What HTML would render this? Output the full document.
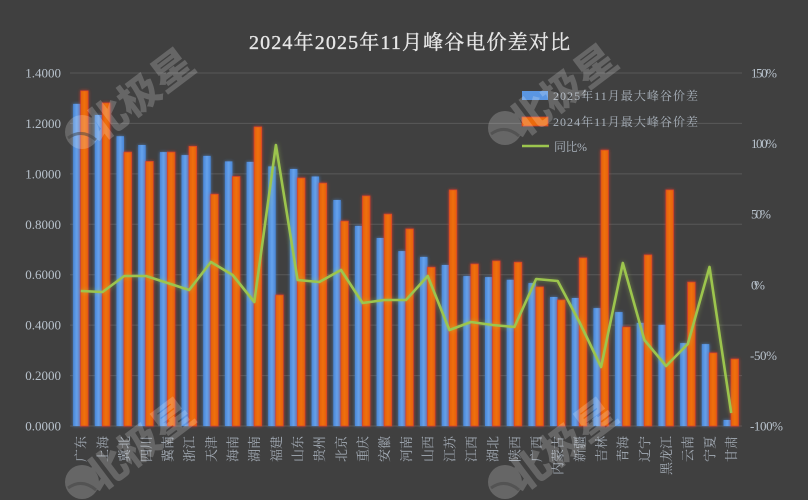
<!DOCTYPE html>
<html><head><meta charset="utf-8"><style>
html,body{margin:0;padding:0;background:#404040;}
svg{display:block;}
</style></head><body>
<svg width="808" height="500" viewBox="0 0 808 500" xmlns="http://www.w3.org/2000/svg">
<defs>
<linearGradient id="bl" x1="0" y1="0" x2="1" y2="0">
<stop offset="0" stop-color="#4a86d6"/><stop offset="0.5" stop-color="#65a2ec"/><stop offset="1" stop-color="#4a86d6"/>
</linearGradient>
<linearGradient id="or" x1="0" y1="0" x2="1" y2="0">
<stop offset="0" stop-color="#e2600a"/><stop offset="0.5" stop-color="#f07010"/><stop offset="1" stop-color="#e2600a"/>
</linearGradient>
<filter id="gb" x="-60%" y="-10%" width="220%" height="120%">
<feGaussianBlur in="SourceAlpha" stdDeviation="1.6" result="b"/><feFlood flood-color="#4f8fe0" flood-opacity="0.75"/><feComposite in2="b" operator="in" result="g"/>
<feMerge><feMergeNode in="g"/><feMergeNode in="SourceGraphic"/></feMerge></filter>
<filter id="go" x="-60%" y="-10%" width="220%" height="120%">
<feGaussianBlur in="SourceAlpha" stdDeviation="1.6" result="b"/><feFlood flood-color="#e23a2a" flood-opacity="0.75"/><feComposite in2="b" operator="in" result="g"/>
<feMerge><feMergeNode in="g"/><feMergeNode in="SourceGraphic"/></feMerge></filter>
<filter id="gl" x="-10%" y="-10%" width="120%" height="120%">
<feGaussianBlur in="SourceAlpha" stdDeviation="2.5" result="b"/><feFlood flood-color="#a8d050" flood-opacity="0.5"/><feComposite in2="b" operator="in" result="g"/>
<feMerge><feMergeNode in="g"/><feMergeNode in="SourceGraphic"/></feMerge></filter>
</defs>
<rect width="808" height="500" fill="#404040"/>

<!-- title -->
<text x="249" y="49" font-family="'Liberation Serif','Noto Serif CJK SC',serif" font-size="20" font-weight="normal" fill="#e6e6e6" stroke="#e6e6e6" stroke-width="0.35" textLength="321" lengthAdjust="spacing">2024年2025年11月峰谷电价差对比</text>

<!-- gridlines -->
<g stroke="#595959" stroke-width="1">
<line x1="70" y1="73" x2="742" y2="73"/>
<line x1="70" y1="123.4" x2="742" y2="123.4"/>
<line x1="70" y1="173.9" x2="742" y2="173.9"/>
<line x1="70" y1="224.3" x2="742" y2="224.3"/>
<line x1="70" y1="274.7" x2="742" y2="274.7"/>
<line x1="70" y1="325.1" x2="742" y2="325.1"/>
<line x1="70" y1="375.6" x2="742" y2="375.6"/>
<line x1="70" y1="426" x2="742" y2="426"/>
</g>

<!-- left axis -->
<g font-family="'Liberation Serif','Noto Serif CJK SC',serif" font-size="13" fill="#b8c2cc" text-anchor="end">
<text x="61" y="77.5">1.4000</text>
<text x="61" y="127.9">1.2000</text>
<text x="61" y="178.4">1.0000</text>
<text x="61" y="228.8">0.8000</text>
<text x="61" y="279.2">0.6000</text>
<text x="61" y="329.6">0.4000</text>
<text x="61" y="380.1">0.2000</text>
<text x="61" y="430.5">0.0000</text>
</g>
<!-- right axis -->
<g font-family="'Liberation Serif','Noto Serif CJK SC',serif" font-size="13" fill="#b8c2cc">
<text x="751" y="77.5" textLength="26">150%</text>
<text x="751" y="148.1" textLength="26">100%</text>
<text x="751" y="218.7" textLength="20">50%</text>
<text x="751" y="289.3" textLength="14">0%</text>
<text x="750" y="359.9" textLength="27">-50%</text>
<text x="750" y="430.5" textLength="33">-100%</text>
</g>

<!-- blue bars -->
<g fill="url(#bl)" filter="url(#gb)">
<rect x="73.1" y="103.9" width="7.5" height="322.1"/>
<rect x="94.8" y="115.0" width="7.5" height="311.0"/>
<rect x="116.5" y="136.2" width="7.5" height="289.8"/>
<rect x="138.2" y="145.0" width="7.5" height="281.0"/>
<rect x="159.9" y="152.1" width="7.5" height="273.9"/>
<rect x="181.5" y="155.1" width="7.5" height="270.9"/>
<rect x="203.2" y="155.9" width="7.5" height="270.1"/>
<rect x="224.9" y="161.4" width="7.5" height="264.6"/>
<rect x="246.6" y="161.9" width="7.5" height="264.1"/>
<rect x="268.2" y="166.4" width="7.5" height="259.6"/>
<rect x="289.9" y="169.0" width="7.5" height="257.0"/>
<rect x="311.6" y="176.5" width="7.5" height="249.5"/>
<rect x="333.3" y="200.0" width="7.5" height="226.0"/>
<rect x="354.9" y="225.9" width="7.5" height="200.1"/>
<rect x="376.6" y="238.0" width="7.5" height="188.0"/>
<rect x="398.3" y="251.1" width="7.5" height="174.9"/>
<rect x="420.0" y="256.9" width="7.5" height="169.1"/>
<rect x="441.7" y="265.0" width="7.5" height="161.0"/>
<rect x="463.3" y="276.1" width="7.5" height="149.9"/>
<rect x="485.0" y="277.1" width="7.5" height="148.9"/>
<rect x="506.7" y="279.8" width="7.5" height="146.2"/>
<rect x="528.4" y="283.1" width="7.5" height="142.9"/>
<rect x="550.0" y="297.0" width="7.5" height="129.0"/>
<rect x="571.7" y="298.0" width="7.5" height="128.0"/>
<rect x="593.4" y="308.1" width="7.5" height="117.9"/>
<rect x="615.1" y="312.1" width="7.5" height="113.9"/>
<rect x="636.7" y="322.9" width="7.5" height="103.1"/>
<rect x="658.4" y="324.9" width="7.5" height="101.1"/>
<rect x="680.1" y="343.1" width="7.5" height="82.9"/>
<rect x="701.8" y="344.1" width="7.5" height="81.9"/>
<rect x="723.5" y="420.0" width="7.5" height="6.0"/>
</g>

<!-- orange bars -->
<g fill="url(#or)" stroke="#d8402e" stroke-width="0.7" filter="url(#go)">
<rect x="80.6" y="90.8" width="7.6" height="335.2"/>
<rect x="102.3" y="102.9" width="7.6" height="323.1"/>
<rect x="124.0" y="152.1" width="7.6" height="273.9"/>
<rect x="145.7" y="161.4" width="7.6" height="264.6"/>
<rect x="167.4" y="152.1" width="7.6" height="273.9"/>
<rect x="189.0" y="146.3" width="7.6" height="279.7"/>
<rect x="210.7" y="194.2" width="7.6" height="231.8"/>
<rect x="232.4" y="176.5" width="7.6" height="249.5"/>
<rect x="254.1" y="126.9" width="7.6" height="299.1"/>
<rect x="275.7" y="295.0" width="7.6" height="131.0"/>
<rect x="297.4" y="178.0" width="7.6" height="248.0"/>
<rect x="319.1" y="183.1" width="7.6" height="242.9"/>
<rect x="340.8" y="221.1" width="7.6" height="204.9"/>
<rect x="362.4" y="195.9" width="7.6" height="230.1"/>
<rect x="384.1" y="214.1" width="7.6" height="211.9"/>
<rect x="405.8" y="228.9" width="7.6" height="197.1"/>
<rect x="427.5" y="267.2" width="7.6" height="158.8"/>
<rect x="449.2" y="189.9" width="7.6" height="236.1"/>
<rect x="470.8" y="264.0" width="7.6" height="162.0"/>
<rect x="492.5" y="260.9" width="7.6" height="165.1"/>
<rect x="514.2" y="262.2" width="7.6" height="163.8"/>
<rect x="535.9" y="286.9" width="7.6" height="139.1"/>
<rect x="557.5" y="300.0" width="7.6" height="126.0"/>
<rect x="579.2" y="257.9" width="7.6" height="168.1"/>
<rect x="600.9" y="150.1" width="7.6" height="275.9"/>
<rect x="622.6" y="327.0" width="7.6" height="99.0"/>
<rect x="644.2" y="254.9" width="7.6" height="171.1"/>
<rect x="665.9" y="189.9" width="7.6" height="236.1"/>
<rect x="687.6" y="282.1" width="7.6" height="143.9"/>
<rect x="709.3" y="352.9" width="7.6" height="73.1"/>
<rect x="731.0" y="359.0" width="7.6" height="67.0"/>
</g>

<!-- line -->
<polyline filter="url(#gl)" fill="none" stroke="#9cc54e" stroke-width="2.6" stroke-linejoin="round" points="80.8,291 102.5,292 124.2,276 145.9,276 167.6,283 189.2,290 210.9,262 232.6,275 254.3,302 275.9,145 297.6,280 319.3,282 341,270 362.6,303 384.3,300 406,300 427.7,276 449.4,330 471,322 492.7,325 514.4,327 536.1,279 557.7,281 579.4,322 601.1,367 622.8,263 644.4,340 666.1,366 687.8,344 709.5,267 731.2,413"/>

<!-- legend -->
<rect x="522" y="91" width="26" height="9" fill="#5a96e2"/>
<rect x="522" y="117" width="26" height="9" fill="#ea6a0c" stroke="#d8402e" stroke-width="0.8"/>
<line x1="522" y1="146" x2="549" y2="146" stroke="#9cc54e" stroke-width="2.5"/>
<g font-family="'Liberation Serif','Noto Serif CJK SC',serif" font-size="12" fill="#aab3bd">
<text x="553" y="100" textLength="145" lengthAdjust="spacing">2025年11月最大峰谷价差</text>
<text x="553" y="126" textLength="145" lengthAdjust="spacing">2024年11月最大峰谷价差</text>
<text x="554" y="151" textLength="33" lengthAdjust="spacing">同比%</text>
</g>

<!-- x labels -->
<g font-family="'Liberation Serif','Noto Serif CJK SC',serif" font-size="13" fill="#a4acb6" text-anchor="end">
<text transform="translate(85.7,436) rotate(-90)">广东</text>
<text transform="translate(107.4,436) rotate(-90)">上海</text>
<text transform="translate(129.1,436) rotate(-90)">冀北</text>
<text transform="translate(150.8,436) rotate(-90)">四川</text>
<text transform="translate(172.5,436) rotate(-90)">冀南</text>
<text transform="translate(194.1,436) rotate(-90)">浙江</text>
<text transform="translate(215.8,436) rotate(-90)">天津</text>
<text transform="translate(237.5,436) rotate(-90)">海南</text>
<text transform="translate(259.2,436) rotate(-90)">湖南</text>
<text transform="translate(280.8,436) rotate(-90)">福建</text>
<text transform="translate(302.5,436) rotate(-90)">山东</text>
<text transform="translate(324.2,436) rotate(-90)">贵州</text>
<text transform="translate(345.9,436) rotate(-90)">北京</text>
<text transform="translate(367.5,436) rotate(-90)">重庆</text>
<text transform="translate(389.2,436) rotate(-90)">安徽</text>
<text transform="translate(410.9,436) rotate(-90)">河南</text>
<text transform="translate(432.6,436) rotate(-90)">山西</text>
<text transform="translate(454.3,436) rotate(-90)">江苏</text>
<text transform="translate(475.9,436) rotate(-90)">江西</text>
<text transform="translate(497.6,436) rotate(-90)">湖北</text>
<text transform="translate(519.3,436) rotate(-90)">陕西</text>
<text transform="translate(541.0,436) rotate(-90)">广西</text>
<text transform="translate(562.6,436) rotate(-90)">内蒙古</text>
<text transform="translate(584.3,436) rotate(-90)">新疆</text>
<text transform="translate(606.0,436) rotate(-90)">吉林</text>
<text transform="translate(627.7,436) rotate(-90)">青海</text>
<text transform="translate(649.3,436) rotate(-90)">辽宁</text>
<text transform="translate(671.0,436) rotate(-90)">黑龙江</text>
<text transform="translate(692.7,436) rotate(-90)">云南</text>
<text transform="translate(714.4,436) rotate(-90)">宁夏</text>
<text transform="translate(736.1,436) rotate(-90)">甘肃</text>
</g>

<!-- watermarks -->
<g fill="#ffffff" opacity="0.2" font-family="'Noto Sans CJK SC',sans-serif" font-size="40" font-weight="900">
<g transform="translate(82,132)">
<circle r="17"/>
<text transform="translate(16,12) rotate(-37)" textLength="125" lengthAdjust="spacingAndGlyphs">北极星</text>
</g>
<g transform="translate(505,128)">
<circle r="17"/>
<text transform="translate(16,12) rotate(-37)" textLength="125" lengthAdjust="spacingAndGlyphs">北极星</text>
</g>
<g transform="translate(82,482)">
<circle r="17"/>
<text transform="translate(16,12) rotate(-37)" textLength="125" lengthAdjust="spacingAndGlyphs">北极星</text>
</g>
<g transform="translate(505,482)">
<circle r="17"/>
<text transform="translate(16,12) rotate(-37)" textLength="125" lengthAdjust="spacingAndGlyphs">北极星</text>
</g>
</g>
<g fill="none" stroke="#404040" stroke-width="3" opacity="0.5">
<path d="M68,138 Q82,128 96,140"/>
<path d="M491,134 Q505,124 519,136"/>
<path d="M68,488 Q82,478 96,490"/>
<path d="M491,488 Q505,478 519,490"/>
</g>
</svg>
</body></html>
